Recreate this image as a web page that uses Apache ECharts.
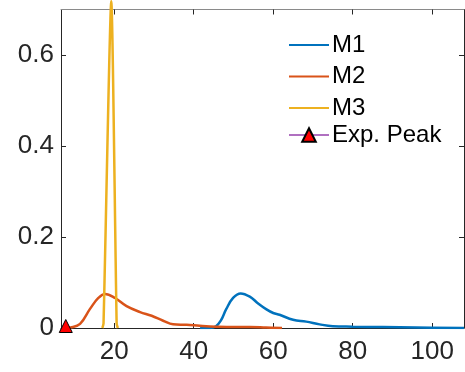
<!DOCTYPE html>
<html>
<head>
<meta charset="utf-8">
<script src="https://cdn.jsdelivr.net/npm/echarts@6/dist/echarts.min.js"></script>
<style>
    html, body {margin: 0; padding: 0; background: #fff;}
    #chart {width: 465px; height: 372px;}
</style>
</head>
<body>
<div id="chart"></div>
<script>
// curves
const m1_x = [41.6, 44.0, 45.6, 46.8, 48.2, 49.9, 51.8, 54.1, 56.2, 58.3, 60.0, 61.6, 65.0, 68.3, 71.7, 75.0, 80.0, 87.6, 96.0, 108];
const m1_y = [0, 0.0, 0.004, 0.016, 0.042, 0.066, 0.076, 0.069, 0.054, 0.041, 0.033, 0.029, 0.018, 0.014, 0.008, 0.004, 0.003, 0.002, 0.001, 0.0];

const m2_x = [7.8, 9.0, 11.4, 13.9, 16.0, 17.7, 20.2, 23.1, 26.5, 29.4, 32.3, 34.8, 38.2, 41.5, 45.7, 49.9, 54.1, 58.2, 62.2];
const m2_y = [0, 0.001, 0.009, 0.042, 0.066, 0.075, 0.066, 0.048, 0.035, 0.027, 0.016, 0.008, 0.007, 0.005, 0.003, 0.002, 0.002, 0.001, 0.0];

const m3_x = [17.0, 17.3, 19.25, 20.6, 20.9];
const m3_y = [0, 0.01, 0.718, 0.01, 0];

const peak_x = [7.8];
const peak_y = [0];

const x_ticks = [20, 40, 60, 80, 100];
const y_ticks = [0, 0.2, 0.4, 0.6];

function pairs(xs, ys) {
    return xs.map((x, i) => [x, ys[i]]);
}

const font = "'Liberation Sans', Arial, Helvetica, sans-serif";
const axis_color = '#262626';

let common_x = {
    type: 'value', min: 6.6, max: 108,
    axisLine: {show: true, onZero: false, lineStyle: {color: axis_color, width: 1}},
    axisTick: {show: true, inside: true, length: 5, customValues: x_ticks, lineStyle: {color: axis_color}},
    splitLine: {show: false},
};
let common_y = {
    type: 'value', min: 0, max: 0.7,
    axisLine: {show: true, onZero: false, lineStyle: {color: axis_color, width: 1}},
    axisTick: {show: true, inside: true, length: 5, customValues: y_ticks, lineStyle: {color: axis_color}},
    splitLine: {show: false},
};

let legend_common = {
    left: 288, orient: 'vertical', padding: 0,
    itemWidth: 40, itemHeight: 15, itemGap: 8,
    textStyle: {fontSize: 24, fontFamily: font, color: '#000', lineHeight: 22, padding: [0, 0, 0, -2]},
};

let option = {
    animation: false,
    backgroundColor: '#fff',
    grid: {left: 61, right: 1, top: 9.5, bottom: 44},
    xAxis: [Object.assign({}, common_x, {
        position: 'bottom',
        axisLabel: {show: true, customValues: x_ticks, margin: 11, color: axis_color, fontSize: 26, fontFamily: font},
    }), Object.assign({}, common_x, {
        position: 'top',
        axisLine: {show: true, onZero: false, lineStyle: {color: '#8a8a8a', width: 1}},
        axisLabel: {show: false},
    })],
    yAxis: [Object.assign({}, common_y, {
        position: 'left',
        axisLabel: {show: true, customValues: y_ticks, margin: 7, color: axis_color, fontSize: 26, fontFamily: font,
            formatter: function (v) { return v === 0 ? '0' : String(Math.round(v * 10) / 10); }},
    }), Object.assign({}, common_y, {
        position: 'right',
        axisLabel: {show: false},
    })],
    legend: [Object.assign({}, legend_common, {
        top: 33, itemGap: 7.5,
        data: [
            {name: 'M1', itemStyle: {opacity: 0}},
            {name: 'M2', itemStyle: {opacity: 0}},
            {name: 'M3', itemStyle: {opacity: 0}},
        ],
    }), Object.assign({}, legend_common, {
        top: 123, itemHeight: 17,
        data: [{name: 'Exp. Peak'}],
    })],
    series: [{
        name: 'M1', type: 'line', data: pairs(m1_x, m1_y), smooth: 0.4, symbol: 'none',
        lineStyle: {color: '#0072BD', width: 2.5}, itemStyle: {color: '#0072BD'},
    }, {
        name: 'M2', type: 'line', data: pairs(m2_x, m2_y), smooth: 0.4, symbol: 'none',
        lineStyle: {color: '#D95319', width: 2.5}, itemStyle: {color: '#D95319'},
    }, {
        name: 'M3', type: 'line', data: pairs(m3_x, m3_y), smooth: 0.2, symbol: 'none', clip: false,
        lineStyle: {color: '#EDB120', width: 2.5}, itemStyle: {color: '#EDB120'},
    }, {
        name: 'Exp. Peak', type: 'line', data: pairs(peak_x, peak_y), symbol: 'triangle', symbolSize: 13,
        symbolOffset: [0, -2], clip: false, z: 5,
        lineStyle: {color: '#B070C0', width: 1},
        itemStyle: {color: '#FF0000', borderColor: '#000', borderWidth: 1},
    }]
};

let my_chart = echarts.init(document.getElementById('chart'), null, {renderer: 'canvas'});
my_chart.setOption(option);
</script>
</body>
</html>
